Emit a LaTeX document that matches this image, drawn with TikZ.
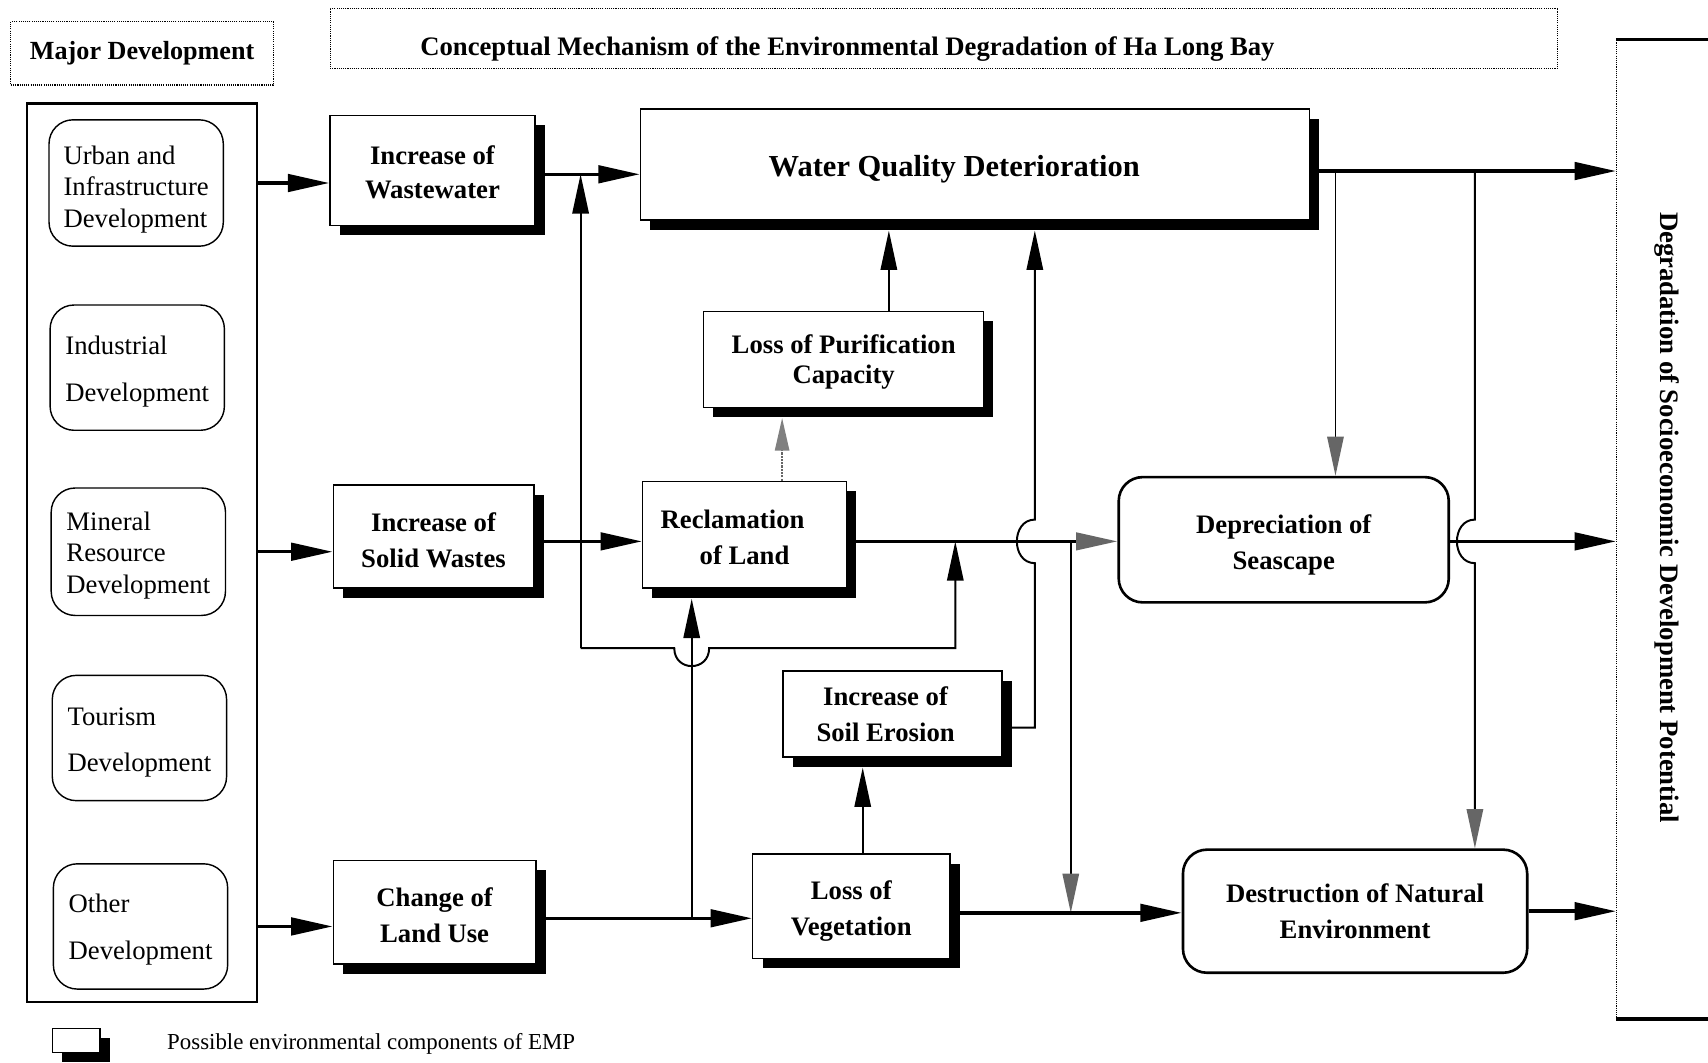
\documentclass[tikz,border=0pt]{standalone}
\usepackage{fontspec}
\setmainfont{Liberation Serif}
\usetikzlibrary{arrows.meta,shadows}
\newcommand\bxf{\fontsize{24.5}{33}\selectfont\bfseries}
\newcommand\dvf{\fontsize{24.5}{28.5}\selectfont}
\newcommand\upr[1]{\rule{0pt}{#1}}
\tikzset{
  shbox/.style={draw, line width=1.4pt, fill=white, inner sep=0pt, align=center, font=\bxf,
    drop shadow={shadow xshift=9pt, shadow yshift=-9pt, fill=black, opacity=1}},
  rbox/.style={draw, line width=2.4pt, rounded corners=22pt, fill=white, inner sep=0pt, align=center, font=\bxf},
  devbox/.style={draw, line width=1.3pt, rounded corners=22pt, inner sep=0pt, align=left, font=\dvf, minimum width=160pt},
  hdr/.style={draw, densely dotted, line width=1pt, inner sep=0pt},
  flowarr/.style={line width=3.2pt, -{Triangle[length=38pt,width=16pt]}},
  thinarr/.style={line width=1.8pt, -{Triangle[length=36pt,width=15pt]}},
  greyarr/.style={line width=1.8pt, -{Triangle[length=36pt,width=15pt,color=black!60]}},
  greyflow/.style={line width=2.8pt, -{Triangle[length=38pt,width=16pt,color=black!60]}},
  dotarr/.style={line width=2pt, densely dotted, black!60, -{Triangle[length=30pt,width=13pt,color=black!50]}},
}
\begin{document}
\begin{tikzpicture}[x=1pt,y=-1pt]
\useasboundingbox (0,0) rectangle (1568,975);
\fill[white] (0,0) rectangle (1568,975);

% headers
\node[hdr, minimum width=241pt, minimum height=58pt, font=\fontsize{24}{28}\selectfont\bfseries] (mdh) at (130.5,49) {Major Development};
\node[hdr, minimum width=1127pt, minimum height=55pt] (cmh) at (866.5,35) {};
\node[font=\bxf] (cmt) at (778,45) {Conceptual Mechanism of the Environmental Degradation of Ha Long Bay};

% left column
\node[draw, line width=2.2pt, minimum width=211pt, minimum height=825pt] (lc) at (130.5,507.5) {};
\node[devbox, minimum height=116pt] (ub) at (125,168) {\upr{29pt}Urban and\\Infrastructure\\Development};
\node[devbox, minimum height=115pt] (ib) at (126,337.5) {\upr{24pt}Industrial\\[14pt]Development};
\node[devbox, minimum height=117pt] (mb) at (127,506.5) {\upr{24pt}Mineral\\Resource\\Development};
\node[devbox, minimum height=115pt] (tb) at (128,677.5) {\upr{25pt}Tourism\\[14pt]Development};
\node[devbox, minimum height=115pt] (ob) at (129,850.5) {\upr{23pt}Other\\[14pt]Development};

% process boxes
\node[shbox, minimum width=188pt, minimum height=101pt, font=\fontsize{24.5}{31}\selectfont\bfseries] (ww) at (397,156.5) {\upr{21pt}Increase of\\Wastewater};
\node[shbox, minimum width=614pt, minimum height=102pt] (wqd) at (895,151) {};
\node[font=\fontsize{28}{33}\selectfont\bfseries] (wqdt) at ([xshift=-19pt,yshift=-4pt]wqd.center) {Water Quality Deterioration};
\node[shbox, minimum width=257pt, minimum height=88pt, font=\fontsize{24.5}{28}\selectfont\bfseries] (lpc) at (774.5,330) {\upr{22pt}Loss of Purification\\Capacity};
\node[shbox, minimum width=184pt, minimum height=95pt] (isw) at (398,492.5) {\upr{24pt}Increase of\\Solid Wastes};
\node[shbox, minimum width=187pt, minimum height=98pt] (rol) at (683.5,491) {\upr{21pt}\hspace*{-22pt}Reclamation\\of Land};
\node[rbox, minimum width=303pt, minimum height=115pt] (dep) at (1178.5,495.5) {\upr{26pt}Depreciation of\\Seascape};
\node[shbox, minimum width=201pt, minimum height=79pt] (ise) at (819.5,655.5) {\hspace*{-13pt}Increase of\\\hspace*{-13pt}Soil Erosion};
\node[shbox, minimum width=186pt, minimum height=95pt] (clu) at (399,837.5) {\upr{22pt}Change of\\Land Use};
\node[shbox, minimum width=181pt, minimum height=96pt] (lov) at (781.5,832) {\upr{26pt}Loss of\\Vegetation};
\node[rbox, minimum width=316pt, minimum height=113pt] (dest) at (1244,836.5) {Destruction of Natural\\Environment};

% right box
\node[draw, line width=1pt, densely dotted, minimum width=140pt, minimum height=898pt] (rb) at (1554,486) {};
\draw[line width=3pt] (rb.north west) -- (rb.north east);
\draw[line width=3pt] (rb.south west) -- (rb.south east);
\node[rotate=-90, font=\bxf] (rbt) at (1530,475) {Degradation of Socioeconomic Development Potential};

% legend
\node[shbox, minimum width=44pt, minimum height=22pt] (leg) at (70,955) {};
\node[anchor=west, font=\fontsize{21}{25}\selectfont] (legt) at (150,958) {Possible environmental components of EMP};

% junctions
\coordinate (j1) at (533,160);
\coordinate (lA) at (533,595);
\coordinate (h1a) at (619,595);
\coordinate (h1b) at (651,595);
\coordinate (lB) at (877,595);
\coordinate (j2) at (877,497);
\coordinate (j3) at (950,668);
\coordinate (j4) at (983,497);
\coordinate (j5) at (983,838);
\coordinate (j6) at (1226,157);
\coordinate (j7) at (1354,157);
\coordinate (j8) at (635,843);
\coordinate (j9) at (792,740);
\coordinate (j10) at (816,250);
\coordinate (j11) at (718,410);
\coordinate (jd) at (1354,497);
\coordinate (wqdb) at ([yshift=-9pt]wqd.south);
\coordinate (lpcb) at ([yshift=-9pt]lpc.south);
\coordinate (rolb) at ([yshift=-9pt]rol.south);
\coordinate (iseb) at ([yshift=-9pt]ise.south);

% connectors
\draw[flowarr] (lc.east |- ub) -- (ww.west |- ub);
\draw[flowarr] (ww.east |- j1) -- (wqd.west |- j1);
\draw[thinarr] (lA) -- (j1);
\draw[thinarr] (lA) -- (h1a) .. controls (619,617) and (651,617) .. (h1b) -- (lB) -- (j2);
\draw[flowarr] (wqd.east |- j6) -- (rb.west |- j6);
\draw[greyarr] (j6) -- (dep.north -| j6);
\draw[greyarr] (j7) -- (1354,477) .. controls (1332,477) and (1332,517) .. (1354,517) -- (dest.north -| j7);
\draw[flowarr] (lc.east |- mb) -- (isw.west |- mb);
\draw[flowarr] (isw.east |- j4) -- (rol.west |- j4);
\draw[greyflow] (rol.east |- j4) -- (dep.west |- j4);
\draw[dotarr] (rol.north -| j11) -- (lpcb -| j11);
\draw[thinarr] (lpc.north -| j10) -- (wqdb -| j10);
\draw[thinarr] (ise.east |- j3) -- (j3) -- (950,517) .. controls (928,517) and (928,477) .. (950,477) -- (wqdb -| j3);
\draw[greyarr] (j4) -- (j5);
\draw[flowarr] (dep.east |- jd) -- (rb.west |- jd);
\draw[flowarr] (lc.east |- ob) -- (clu.west |- ob);
\draw[flowarr] (clu.east |- j8) -- (lov.west |- j8);
\draw[thinarr] (j8) -- (rolb -| j8);
\draw[thinarr] (lov.north -| j9) -- (iseb -| j9);
\draw[flowarr] (lov.east |- j5) -- (dest.west |- j5);
\draw[flowarr] (dest.east) -- (rb.west |- dest.east);
\end{tikzpicture}
\end{document}
